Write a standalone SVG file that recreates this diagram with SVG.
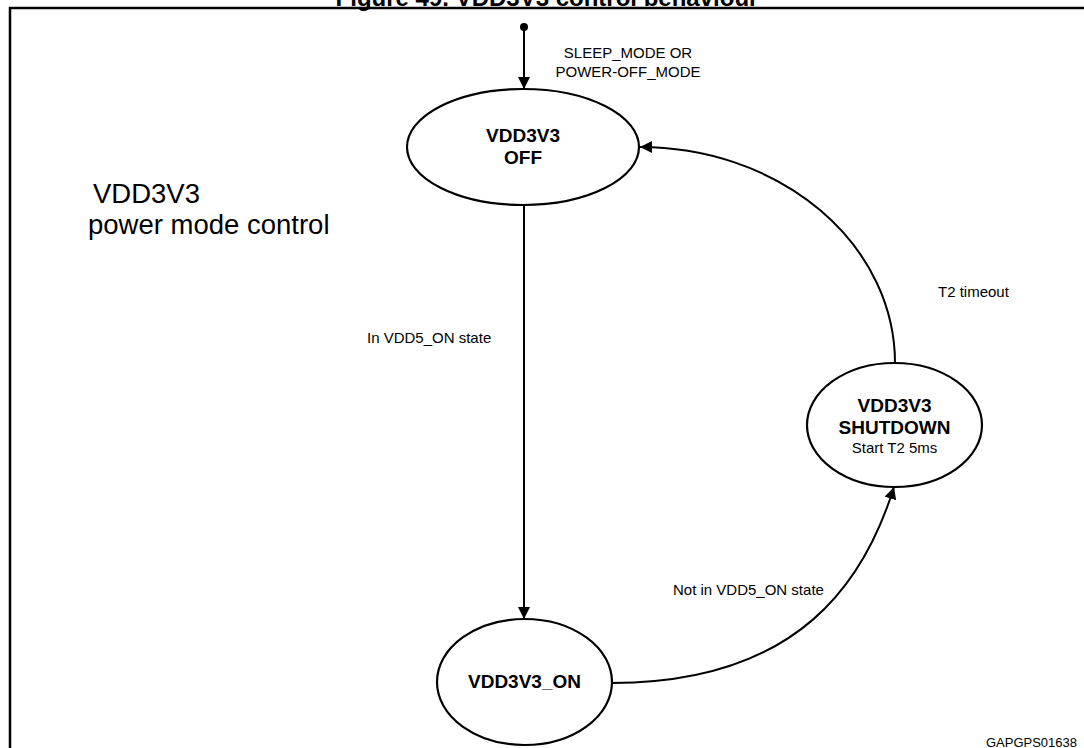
<svg xmlns="http://www.w3.org/2000/svg" width="1084" height="748" viewBox="0 0 1084 748">
<style>
text { font-family: "Liberation Sans", Arial, sans-serif; fill: #000; }
.st { fill: #fff; stroke: #000; stroke-width: 2.2; }
.nl { font-size: 19px; font-weight: bold; text-anchor: middle; }
.sl { font-size: 15px; }
.cn { fill: none; stroke: #000; stroke-width: 2; }
</style>
<defs>
<marker id="ah" viewBox="0 0 12 12" refX="12" refY="6" markerWidth="12" markerHeight="12" markerUnits="userSpaceOnUse" orient="auto">
<path d="M0 0 L12 6 L0 12 Z" fill="#000"/>
</marker>
</defs>
<rect width="1084" height="748" fill="#fff"/>
<text x="547" y="6" font-size="24" font-weight="bold" text-anchor="middle">Figure 49. VDD3V3 control behaviour</text>
<path d="M10 748 V8 H1084" fill="none" stroke="#000" stroke-width="2.5"/>
<g id="connectors">
<circle cx="524" cy="27" r="4" fill="#000"/>
<path class="cn" d="M524 27 V89" marker-end="url(#ah)"/>
<path class="cn" d="M524 205 V619" marker-end="url(#ah)"/>
<path class="cn" d="M612 683 C800 683 865 580 894 487" marker-end="url(#ah)"/>
<path class="cn" d="M895 363 A255 216 0 0 0 640 147" marker-end="url(#ah)"/>
<text class="sl" x="628" y="58" text-anchor="middle">SLEEP_MODE OR</text>
<text class="sl" x="628" y="77" text-anchor="middle">POWER-OFF_MODE</text>
<text class="sl" x="367" y="343">In VDD5_ON state</text>
<text class="sl" x="673" y="595">Not in VDD5_ON state</text>
<text class="sl" x="938" y="297">T2 timeout</text>
</g>
<g id="off">
<ellipse class="st" cx="523" cy="147" rx="116" ry="58"/>
<text class="nl" x="523" y="142">VDD3V3</text>
<text class="nl" x="523" y="164">OFF</text>
</g>
<g id="on">
<ellipse class="st" cx="524.5" cy="682" rx="87.5" ry="63"/>
<text class="nl" x="524.5" y="688">VDD3V3_ON</text>
</g>
<g id="shutdown">
<ellipse class="st" cx="894.5" cy="425" rx="87.5" ry="62"/>
<text class="nl" x="894.5" y="412">VDD3V3</text>
<text class="nl" x="894.5" y="434">SHUTDOWN</text>
<text x="894.5" y="453" font-size="15" text-anchor="middle">Start T2 5ms</text>
</g>
<g id="title">
<text x="93" y="203" font-size="27.5">VDD3V3</text>
<text x="88" y="234" font-size="27.5">power mode control</text>
</g>
<text x="1077" y="747" font-size="13" text-anchor="end">GAPGPS01638</text>
</svg>
